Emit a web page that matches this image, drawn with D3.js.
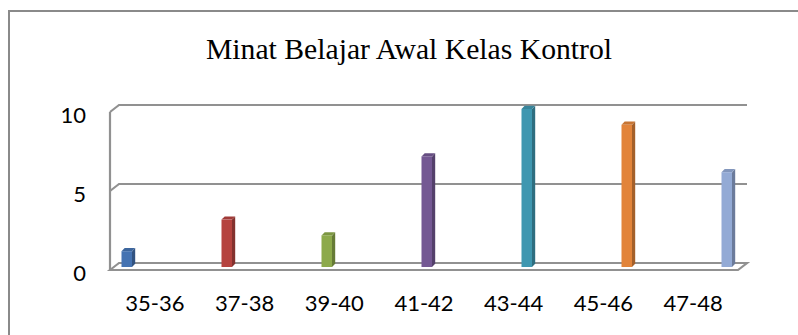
<!DOCTYPE html>
<html><head><meta charset="utf-8">
<script src="https://cdn.jsdelivr.net/npm/d3@7"></script>
<style>html,body{margin:0;padding:0;background:#fff;}svg{display:block;}</style>
</head><body>
<script>
const title = "Minat Belajar Awal Kelas Kontrol";
const categories = ["35-36","37-38","39-40","41-42","43-44","45-46","47-48"];
const values = [1, 3, 2, 7, 10, 9, 6];
const yTicks = [0, 5, 10];
const palette = ["#4573b2","#b5433f","#8daa4b","#745893","#3f97b0","#e2843a","#93aad5"];

const W = 798, H = 335;
const svg = d3.select("body").append("svg").attr("width", W).attr("height", H);

// outer frame (extends past the right/bottom edges)
svg.append("rect").attr("x", 9).attr("y", 11).attr("width", 820).attr("height", 360)
  .attr("fill", "#fff").attr("stroke", "#8a8a8a").attr("stroke-width", 2);

// 3D geometry
const dx = 9, dy = 7; // depth offset from front to back wall
const backLeft = 119, backRight = 747;
const y = d3.scaleLinear().domain([0, 10]).range([263, 105]); // back wall
const xBand = d3.scaleBand().domain(categories).range([110, 738]); // front floor edge (labels)
const xBar = d3.scalePoint().domain(categories).range([121.5, 721.5]); // bar positions
const barW = 10.5, bd = 3.2;
const barShift = 4; // bars sit mid-depth

const grid = svg.append("g").attr("fill", "none").attr("stroke", "#919191").attr("stroke-width", 2.2);
yTicks.forEach(t => {
  if (t === 0) return;
  grid.append("path").attr("d", `M${backLeft - dx},${y(t) + dy}L${backLeft},${y(t)}L${backRight},${y(t)}`);
});
grid.append("line").attr("x1", backLeft - dx).attr("x2", backLeft - dx)
  .attr("y1", y(10) + dy).attr("y2", y(0) + dy);
grid.append("path").attr("d",
  `M${backLeft - dx},${y(0) + dy}L${backLeft},${y(0)}L${backRight},${y(0)}L${backRight - dx},${y(0) + dy}Z`)
  .attr("fill", "#fff");

const labelFont = "Lato, 'Open Sans', sans-serif";
// y tick labels
svg.append("g").selectAll("text").data(yTicks).join("text")
  .attr("x", 86).attr("y", d => y(d) + dy + 2)
  .attr("text-anchor", "end").attr("dominant-baseline", "central")
  .attr("font-family", labelFont).attr("font-size", 22).attr("fill", "#000")
  .text(d => d);

// x labels
svg.append("g").selectAll("text").data(categories).join("text")
  .attr("x", d => xBand(d) + xBand.bandwidth() / 2).attr("y", 311)
  .attr("text-anchor", "middle")
  .attr("font-family", labelFont).attr("font-size", 22).attr("fill", "#000")
  .text(d => d);

// bars
const barBase = () => y(0) + barShift;
const barTop = i => y(values[i]) + barShift;
svg.append("g").selectAll("g").data(categories).join("g").each(function (d, i) {
  const g = d3.select(this);
  const x0 = xBar(d), b = barBase(), t = barTop(i);
  const c = d3.color(palette[i]);
  g.append("path").attr("d",
    `M${x0 + barW},${t}L${x0 + barW + bd},${t - bd}L${x0 + barW + bd},${b - bd}L${x0 + barW},${b}Z`)
    .attr("fill", c.darker(0.9));
  g.append("path").attr("d",
    `M${x0},${t}L${x0 + bd},${t - bd}L${x0 + barW + bd},${t - bd}L${x0 + barW},${t}Z`)
    .attr("fill", c.darker(0.35));
  g.append("rect").attr("x", x0).attr("y", t).attr("width", barW).attr("height", b - t)
    .attr("fill", c);
});

// title
svg.append("text").attr("x", 409).attr("y", 59).attr("text-anchor", "middle")
  .attr("font-family", "'Liberation Serif', 'Times New Roman', serif").attr("font-size", 29.7)
  .attr("fill", "#000").text(title);
</script>
</body></html>
